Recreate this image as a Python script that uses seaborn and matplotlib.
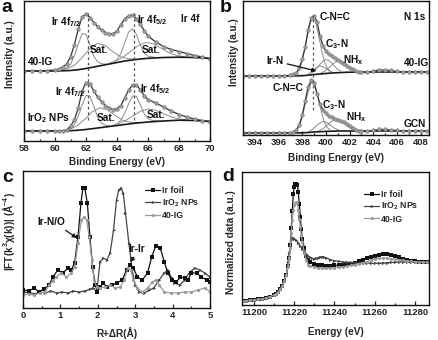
import numpy as np
import pandas as pd
import matplotlib
matplotlib.use('Agg')
import matplotlib.pyplot as plt
import seaborn as sns
from matplotlib.lines import Line2D

sns.set_theme(style='ticks')
plt.rcParams['font.family'] = ['Liberation Sans', 'DejaVu Sans']
plt.rcParams['font.weight'] = 'bold'
plt.rcParams['axes.labelweight'] = 'bold'
plt.rcParams['mathtext.fontset'] = 'custom'
plt.rcParams['mathtext.rm'] = 'Liberation Sans:bold'
plt.rcParams['mathtext.it'] = 'Liberation Sans:bold'
plt.rcParams['mathtext.bf'] = 'Liberation Sans:bold'
plt.rcParams['mathtext.default'] = 'rm'

# ---------------- panel a : Ir 4f XPS ----------------
xa_env = [58, 58.5, 59, 59.5, 60, 60.25, 60.5, 60.75, 61, 61.25, 61.5, 61.75, 62, 62.25, 62.5,
          62.75, 63, 63.25, 63.5, 63.75, 64, 64.25, 64.5, 64.75, 65, 65.25, 65.5, 65.75, 66,
          66.5, 67, 67.5, 68, 68.5, 69, 69.5, 70]
ya_env_ig = [70, 70, 70, 70.5, 71, 72, 74, 77, 84, 96, 112, 124, 127, 123.5, 118.5, 114.5, 111,
             108.5, 107, 107.5, 110, 116.5, 122, 125.5, 126, 122.5, 117, 110.5, 105,
             99, 94.5, 91.5, 89.5, 87.5, 85.5, 84, 82.5]
ya_env_np = [10, 10, 10, 10, 10, 10, 10.5, 11, 15, 21, 33, 50, 58.5, 57.5, 50, 44, 39.5, 35.5,
             33, 31.5, 32.5, 35.5, 43, 51, 56, 56, 51.5, 45.5, 41.5,
             38, 34, 30, 26.5, 24, 22, 20.5, 19.5]
xa_bg = [58, 60, 61, 61.5, 62, 62.5, 63, 63.5, 64, 64.5, 65, 65.5, 66, 67, 68, 69, 70]
ya_bg_ig = [70, 70, 70.5, 71.3, 72.5, 74, 75.5, 77, 78.5, 80, 81, 82, 82.7, 83.5, 83.8, 83.5, 82.5]
ya_bg_np = [10, 10, 10.3, 10.8, 11.5, 12.5, 13.5, 14.5, 15.5, 16.5, 17.5, 18.3, 19, 20, 20.8, 20.5, 19.5]

xa_p1_ig = [60.5, 60.75, 61, 61.25, 61.5, 61.75, 62, 62.25, 62.5, 62.75, 63, 63.25]
ya_p1_ig = [70.9, 72.6, 76.5, 85.4, 96.8, 107.5, 106.5, 96.2, 85, 79.2, 77.3, 76.9]
xa_s1_ig = [60.75, 61.25, 61.75, 62.25, 62.75, 63.25, 63.75, 64.25, 64.75, 65.25]
ya_s1_ig = [71.9, 75.7, 83.4, 92.5, 97.7, 95.5, 89.2, 84, 82.2, 82]
xa_p2_ig = [63.5, 63.75, 64, 64.25, 64.5, 64.75, 65, 65.25, 65.5, 65.75, 66, 66.25, 66.5]
ya_p2_ig = [77.6, 79, 81.3, 87.7, 98.3, 108.9, 112.2, 106.7, 96.2, 88, 84.9, 84.1, 83.6]
xa_s2_ig = [63.9, 64.4, 64.9, 65.4, 65.9, 66.4, 66.9, 67.4, 67.9, 68.4]
ya_s2_ig = [79.8, 84, 89.9, 95.7, 98.6, 97, 92.4, 87.9, 85.4, 84.2]

xa_p1_np = [60.75, 61, 61.25, 61.5, 61.75, 62, 62.25, 62.5, 62.75, 63, 63.25, 63.5]
ya_p1_np = [10.9, 12.4, 16.5, 24.8, 36, 45.5, 44.9, 34.9, 23.9, 17.7, 15.8, 15.2]
xa_s1_np = [60.9, 61.4, 61.9, 62.4, 62.9, 63.4, 63.9, 64.4, 64.9, 65.4]
ya_s1_np = [11.6, 14.9, 21.3, 29.1, 33.3, 31.1, 25.3, 20.5, 18.6, 18.5]
xa_p2_np = [63.75, 64, 64.25, 64.5, 64.75, 65, 65.25, 65.5, 65.75, 66, 66.25, 66.5, 66.75]
ya_p2_np = [15.6, 17.2, 20.8, 27.9, 37.2, 45.1, 44.7, 36.5, 27.5, 22.4, 20.7, 20.1, 20.1]
xa_s2_np = [64, 64.5, 65, 65.5, 66, 66.5, 67, 67.5, 68, 68.5]
ya_s2_np = [16.8, 20, 24.8, 29.6, 32, 30.8, 27.3, 24, 22.1, 21.2]
a_dash_x = [62.15, 65.1]

# ---------------- panel b : N 1s XPS ----------------
xb_env = [393, 393.5, 394, 394.5, 395, 395.5, 396, 396.5, 397,
          397.25, 397.5, 397.75, 398, 398.25, 398.5, 398.75, 399, 399.25, 399.5, 399.75, 400,
          400.25, 400.5, 400.75, 401, 401.25, 401.5, 401.75, 402, 402.25, 402.5, 402.75,
          403, 403.5, 404, 404.5, 405, 405.5, 406, 406.5, 407, 407.5, 408, 408.5, 409]
yb_env_ig = [59, 59, 59, 59, 59, 59, 59, 59, 59.5,
             60.5, 62, 67, 76, 88, 105, 117, 119.5, 113, 99, 89, 84,
             81, 78.5, 76.5, 74.5, 72.8, 71, 69.2, 67.3, 65.5, 64, 63,
             62.5, 62.5, 64, 65, 65, 64.5, 63.5, 63, 63, 63, 63, 63, 63]
yb_env_gcn = [2, 2, 2, 2, 2, 2, 2, 2, 2.3,
              3, 5, 10, 20, 34, 48, 54.5, 52, 41, 31, 25, 21.5,
              19, 17.5, 16, 15, 14, 12.5, 10.8, 9, 7, 5, 4,
              3.5, 3.5, 4.5, 5.5, 5.5, 5, 4.5, 4, 4, 4, 4, 4, 4]
xb_bg = [393, 397, 398, 398.5, 399, 399.5, 400, 400.5, 401, 401.5, 402, 403, 409]
yb_bg_ig = [59, 59, 59.3, 59.8, 60.5, 61, 61.5, 62, 62.3, 62.6, 62.8, 63, 63]
yb_bg_gcn = [2, 2, 2.2, 2.5, 3, 3.3, 3.6, 3.8, 4, 4, 4, 4, 4]

xb_cnc_ig = [397.4, 397.65, 397.9, 398.15, 398.4, 398.65, 398.9, 399.15, 399.4, 399.65, 399.9, 400.15, 400.4]
yb_cnc_ig = [60.4, 63.5, 70.3, 82.2, 97.4, 111.4, 117.4, 112.1, 98.7, 84, 72.6, 66.1, 63.3]
xb_irn_ig = [398.5, 398.75, 399, 399.25, 399.5, 399.75, 400, 400.25, 400.5]
yb_irn_ig = [61, 62.8, 65.5, 67.8, 69, 68.3, 66.5, 64.4, 63.2]
xb_c3n_ig = [398.75, 399, 399.25, 399.5, 399.75, 400, 400.25, 400.5, 400.75, 401, 401.25]
yb_c3n_ig = [61.6, 63.9, 67, 70.8, 74, 75.5, 74.5, 71.8, 68.4, 65.7, 63.9]
xb_nhx_ig = [399.6, 399.85, 400.1, 400.35, 400.6, 400.85, 401.1, 401.35, 401.6, 401.85, 402.1, 402.35, 402.6]
yb_nhx_ig = [62.1, 63.5, 65.7, 68.3, 71.1, 73.4, 74.3, 73.7, 71.7, 69.2, 66.9, 65.1, 64]

xb_cnc_gcn = [397.35, 397.6, 397.85, 398.1, 398.35, 398.6, 398.85, 399.1, 399.35, 399.6, 399.85, 400.1, 400.35]
yb_cnc_gcn = [3.4, 6, 12.1, 22.7, 36.1, 48.5, 53.9, 49, 36.9, 23.8, 13.5, 7.6, 5.1]
xb_c3n_gcn = [398.55, 398.8, 399.05, 399.3, 399.55, 399.8, 400.05, 400.3, 400.55, 400.8, 401.05]
yb_c3n_gcn = [3.6, 5.2, 7.5, 10.2, 12.5, 13.5, 12.8, 10.7, 8.3, 6.3, 5.1]
xb_nhx_gcn = [399.4, 399.65, 399.9, 400.15, 400.4, 400.65, 400.9, 401.15, 401.4, 401.65, 401.9, 402.15, 402.4]
yb_nhx_gcn = [4.2, 5.6, 7.7, 10.2, 12.9, 15.1, 16, 15.2, 13.1, 10.5, 8.1, 6.2, 5]
b_dash_x = [398.9]

# ---------------- panel c : FT-EXAFS ----------------
xc_foil = [0, 0.15, 0.3, 0.43, 0.55, 0.7, 0.8, 0.93, 1.07, 1.2, 1.29, 1.38, 1.47, 1.55, 1.6, 1.65,
           1.72, 1.79, 1.86, 1.93, 1.99, 2.06, 2.15, 2.24, 2.38, 2.51, 2.65, 2.77, 2.86, 2.95, 3.06,
           3.19, 3.33, 3.44, 3.55, 3.67, 3.78, 3.87, 3.98, 4.1, 4.21, 4.32, 4.41, 4.5, 4.64, 4.77,
           4.91, 5.0]
yc_foil = [18, 17, 20, 16, 19, 23, 31, 38, 35, 40, 38, 45, 71, 105, 120, 120, 105, 71, 41, 23,
           16, 21, 25, 21, 23, 25, 28, 38, 43, 40, 31, 28, 35, 51, 62, 60, 46, 35, 28, 26, 31, 30,
           28, 35, 35, 31, 28, 26]
xc_iro2 = [0, 0.15, 0.3, 0.45, 0.6, 0.75, 0.9, 1.05, 1.2, 1.35, 1.5, 1.65, 1.8, 1.88, 1.97, 2.06,
           2.15, 2.24, 2.33, 2.42, 2.5, 2.56, 2.62, 2.68, 2.74, 2.83, 2.92, 3.0, 3.1, 3.24, 3.37,
           3.5, 3.64, 3.78, 3.87, 3.96, 4.05, 4.19, 4.32, 4.46, 4.6, 4.73, 4.86, 5.0]
yc_iro2 = [15, 16, 14, 16, 15, 17, 15, 16, 15, 17, 16, 17, 19, 20, 16, 46, 50, 48, 55, 78, 108,
           118, 120, 115, 95, 65, 38, 23, 16, 15, 18, 20, 28, 35, 38, 31, 25, 23, 28, 36, 40, 38,
           35, 31]
xc_ig = [0, 0.15, 0.3, 0.45, 0.58, 0.7, 0.8, 0.89, 1.02, 1.16, 1.29, 1.38, 1.47, 1.56, 1.63, 1.7,
         1.77, 1.84, 1.9, 1.97, 2.06, 2.2, 2.33, 2.47, 2.6, 2.71, 2.8, 2.88, 2.95, 3.06, 3.19,
         3.33, 3.46, 3.55, 3.64, 3.78, 3.96, 4.14, 4.32, 4.5, 4.68, 4.86, 5.0]
yc_ig = [13, 14, 13, 15, 16, 23, 27, 31, 35, 31, 35, 41, 65, 88, 91, 88, 71, 48, 28, 21, 20, 21,
         23, 20, 21, 28, 40, 38, 28, 20, 16, 20, 26, 28, 23, 16, 15, 15, 16, 16, 18, 20, 16]

# ---------------- panel d : XANES ----------------
xd_pre = [11194.5, 11196, 11198, 11200, 11202, 11204, 11206, 11208, 11210, 11211, 11212, 11213,
          11214, 11215, 11216]
yd_pre = [0, 0.5, 1, 1.3, 1.7, 2.4, 3.3, 4.7, 6.5, 7.8, 9.5, 12.3, 15.5, 20.5, 27]
xd_foil = [11217, 11217.5, 11218, 11218.5, 11219, 11219.5, 11220, 11220.5, 11221, 11221.5, 11222,
           11222.5, 11223, 11223.5, 11224, 11225, 11226, 11227, 11228, 11230, 11232, 11234, 11236,
           11238, 11240, 11242, 11244, 11246, 11248, 11250, 11252, 11254, 11256, 11258, 11260,
           11262, 11264, 11266, 11268, 11270, 11272, 11274, 11276, 11278, 11280, 11282, 11284, 11286]
yd_foil = [36, 44, 58, 75, 93, 110, 118, 121, 121, 120, 112, 100, 87, 74, 64, 55, 46, 42, 40, 38,
           37, 36.7, 36.5, 36.5, 36.7, 37, 37.3, 37.8, 38.3, 39.5, 41, 42.5, 44, 45.5, 46.7, 47.7,
           48.3, 48.2, 47.5, 46.5, 45.3, 43.8, 42.5, 41.6, 41, 40.6, 40.2, 40]
xd_ig = xd_foil
yd_ig = [36, 44, 55, 70, 84, 94, 99, 101, 102, 101, 94, 85, 76, 68, 61, 50, 42, 37.5, 36, 35,
         34.3, 34, 34, 34.2, 34.3, 34.8, 35.3, 36, 36.7, 37.5, 38.5, 39.5, 40.7, 42, 43.3, 44,
         44.3, 44.2, 43.8, 43.3, 42.7, 42, 41.5, 41, 40.5, 40.2, 40, 40]
xd_iro2 = [11217, 11217.5, 11218, 11218.5, 11219, 11219.5, 11220, 11221, 11222, 11223, 11224,
           11225, 11226, 11227, 11228, 11229, 11230, 11231, 11232, 11233, 11234, 11235, 11236,
           11238, 11240, 11242, 11244, 11246, 11248, 11250, 11252, 11254, 11256, 11258, 11260,
           11262, 11264, 11266, 11268, 11270, 11272, 11274, 11276, 11278, 11280, 11282, 11284, 11286]
yd_iro2 = [40, 50, 58, 63, 65.5, 65.5, 64.5, 62.5, 60, 57, 54, 51, 48.5, 46.5, 45, 44, 43.5, 44,
           44.8, 45.5, 45.8, 45.3, 44.5, 42.8, 41.6, 41, 40.5, 40.1, 39.8, 39.5, 39.3, 39.2, 39,
           39, 39, 39.1, 39.3, 39.5, 39.8, 40.1, 40.4, 40.6, 40.7, 40.7, 40.5, 40.3, 40.1, 40]

W, H = 439, 340
fig = plt.figure(figsize=(W / 100, H / 100), dpi=100)
fig.patch.set_facecolor('white')


def axes_px(l, t, r, b):
    return fig.add_axes([l / W, 1 - b / H, (r - l) / W, (b - t) / H])


def line(ax, x, y, **kw):
    sns.lineplot(x=x, y=y, ax=ax, estimator=None, sort=False, legend=False, **kw)


def style(ax, xlim, ylim, major, minor):
    ax.set_xlim(*xlim)
    ax.set_ylim(*ylim)
    ax.set_xticks(major)
    ax.set_xticks(minor, minor=True)
    ax.set_yticks([])
    ax.tick_params(axis='x', which='both', direction='in', top=False, labelsize=6.8,
                   width=0.9, pad=2)
    ax.tick_params(axis='x', which='major', length=3)
    ax.tick_params(axis='x', which='minor', length=1.8)
    for s in ax.spines.values():
        s.set_linewidth(1.0)
        s.set_color('#111')
    for t in ax.get_xticklabels():
        t.set_fontweight('bold')


COMP = dict(color='#8c8c8c', linewidth=0.7)
BG = dict(color='#1a1a1a', linewidth=1.2)
ENV = dict(color='#333333', linewidth=0.9, marker='o', markersize=2.5,
           markerfacecolor='#a0a0a0', markeredgecolor='#7a7a7a', markeredgewidth=0.5)
TXT = dict(fontsize=7.3, fontweight='bold', color='#111')
LAB = 7.2

# ---- a ----
ax = axes_px(24, 1, 210, 141)
for xs, ys in [(xa_p1_ig, ya_p1_ig), (xa_s1_ig, ya_s1_ig), (xa_p2_ig, ya_p2_ig), (xa_s2_ig, ya_s2_ig),
               (xa_p1_np, ya_p1_np), (xa_s1_np, ya_s1_np), (xa_p2_np, ya_p2_np), (xa_s2_np, ya_s2_np)]:
    line(ax, xs, ys, **COMP)
line(ax, xa_bg, ya_bg_ig, **BG)
line(ax, xa_bg, ya_bg_np, **BG)
line(ax, xa_env, ya_env_ig, **ENV)
line(ax, xa_env, ya_env_np, **ENV)
ax.vlines(a_dash_x, 21, 128, colors='#555', linestyles=(0, (2.2, 2.2)), linewidth=0.9)
style(ax, (58, 70), (0, 140), range(58, 71, 2), range(59, 70, 2))
ax.set_xlabel('Binding Energy (eV)', fontsize=LAB)
ax.set_ylabel('Intensity (a.u.)', fontsize=LAB)
ax.xaxis.set_label_coords(0.5, -0.115)
ax.yaxis.set_label_coords(-0.05, 0.62)
ax.text(59.74, 116, 'Ir 4f$_{7/2}$', **TXT)
ax.text(65.29, 118, 'Ir 4f$_{5/2}$', **TXT)
ax.text(68.1, 119, 'Ir 4f', **TXT)
ax.text(62.26, 88, 'Sat.', **TXT)
ax.text(65.6, 88, 'Sat.', **TXT)
ax.text(58.26, 76, '40-IG', **TXT)
ax.text(60.0, 46, 'Ir 4f$_{7/2}$', **TXT)
ax.text(65.48, 49, 'Ir 4f$_{5/2}$', **TXT)
ax.text(62.7, 20, 'Sat.', **TXT)
ax.text(65.9, 23, 'Sat.', **TXT)
ax.text(58.2, 20, 'IrO$_2$ NPs', **TXT)

# ---- b ----
ax = axes_px(243, 1, 429, 135)
for xs, ys in [(xb_cnc_ig, yb_cnc_ig), (xb_irn_ig, yb_irn_ig), (xb_c3n_ig, yb_c3n_ig), (xb_nhx_ig, yb_nhx_ig),
               (xb_cnc_gcn, yb_cnc_gcn), (xb_c3n_gcn, yb_c3n_gcn), (xb_nhx_gcn, yb_nhx_gcn)]:
    line(ax, xs, ys, **COMP)
line(ax, xb_bg, yb_bg_ig, **BG)
line(ax, xb_bg, yb_bg_gcn, **BG)
line(ax, xb_env, yb_env_ig, **ENV)
line(ax, xb_env, yb_env_gcn, **ENV)
ax.vlines(b_dash_x, 25, 120, colors='#555', linestyles=(0, (2.2, 2.2)), linewidth=0.9)
style(ax, (393, 408.7), (0, 134), range(394, 409, 2), range(393, 409, 1))
ax.set_xlabel('Binding Energy (eV)', fontsize=LAB)
ax.set_ylabel('Intensity (a.u.)', fontsize=LAB)
ax.xaxis.set_label_coords(0.5, -0.134)
ax.yaxis.set_label_coords(-0.02, 0.62)
ax.text(399.46, 115, 'C-N=C', **TXT)
ax.text(406.6, 115, 'N 1s', **TXT)
ax.text(399.9, 88, 'C$_3$-N', **TXT)
ax.text(401.4, 72, 'NH$_x$', **TXT)
ax.text(406.6, 69, '40-IG', **TXT)
ax.text(395.5, 44, 'C-N=C', **TXT)
ax.text(399.7, 27, 'C$_3$-N', **TXT)
ax.text(401.7, 15, 'NH$_x$', **TXT)
ax.text(406.6, 8, 'GCN', **TXT)
ax.annotate('Ir-N', xy=(399.2, 64), xytext=(395.0, 71), **TXT,
            arrowprops=dict(arrowstyle='-|>', color='#111', lw=0.9, mutation_scale=6,
                            shrinkA=0, shrinkB=0))

# ---- c ----
FOIL = dict(color='#111111', linewidth=0.9, marker='s', markersize=2.3, markeredgewidth=0)
IRO2 = dict(color='#454545', linewidth=0.9, marker='>', markersize=2.3, markeredgewidth=0)
IG = dict(color='#9a9a9a', linewidth=0.9, marker='o', markersize=2.3, markeredgewidth=0)
ax = axes_px(23, 171, 210, 308)
line(ax, xc_iro2, yc_iro2, **IRO2)
line(ax, xc_foil, yc_foil, **FOIL)
line(ax, xc_ig, yc_ig, **IG)
style(ax, (0, 5), (0, 137), range(0, 6), np.arange(0.5, 5, 1))
ax.set_xlabel('R+ΔR(Å)', fontsize=LAB)
ax.set_ylabel('|FT(k$^3$χ(k))| (Å$^{-4}$)', fontsize=LAB)
ax.xaxis.set_label_coords(0.5, -0.139)
ax.yaxis.set_label_coords(-0.032, 0.555)
handles = [Line2D([], [], **FOIL), Line2D([], [], **IRO2), Line2D([], [], **IG)]
labels = ['Ir foil', 'IrO$_2$ NPs', '40-IG']
ax.legend(handles, labels, loc='upper left', bbox_to_anchor=(0.63, 0.92), frameon=False,
          fontsize=6.3, handlelength=1.7, handletextpad=0.2, labelspacing=0.25, borderpad=0)
ax.annotate('Ir-N/O', xy=(1.44, 70), xytext=(0.38, 83), **TXT,
            arrowprops=dict(arrowstyle='-|>', color='#111', lw=0.9, mutation_scale=6,
                            shrinkA=0, shrinkB=0, relpos=(0.85, 0)))
ax.annotate('Ir-Ir', xy=(2.86, 46), xytext=(2.82, 56), **TXT,
            arrowprops=dict(arrowstyle='-|>', color='#111', lw=0.9, mutation_scale=6,
                            shrinkA=0, shrinkB=0, relpos=(0.5, 0)))

# ---- d ----
ax = axes_px(242, 172, 429, 305)
line(ax, xd_pre + xd_foil, yd_pre + yd_foil, **FOIL)
line(ax, xd_pre + xd_iro2, yd_pre + yd_iro2, **IRO2)
line(ax, xd_pre + xd_ig, yd_pre + yd_ig, **IG)
style(ax, (11194, 11287), (-4, 133), range(11200, 11281, 20), range(11210, 11287, 20))
ax.set_xlabel('Energy (eV)', fontsize=LAB)
ax.set_ylabel('Normalized data (a.u.)', fontsize=LAB)
ax.xaxis.set_label_coords(0.5, -0.165)
ax.yaxis.set_label_coords(-0.032, 0.47)
ax.legend(handles, labels, loc='upper left', bbox_to_anchor=(0.63, 0.9), frameon=False,
          fontsize=6.3, handlelength=1.7, handletextpad=0.2, labelspacing=0.25, borderpad=0)

# panel letters
for lab, x, y in [('a', 7, 8), ('b', 226, 8), ('c', 8, 178), ('d', 228, 176)]:
    fig.text(x / W, 1 - y / H, lab, fontsize=14, fontweight='bold', ha='center', va='center',
             color='#111')

fig.savefig('out.png', dpi=100, facecolor='white')
